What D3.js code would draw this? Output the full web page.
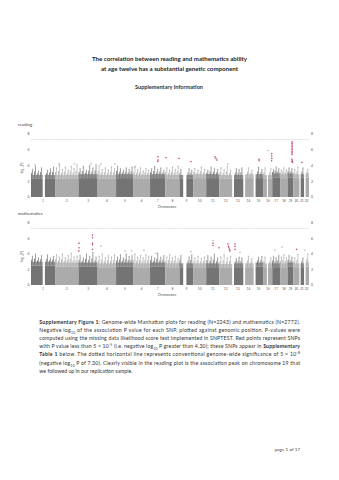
<!DOCTYPE html>
<html><head><meta charset="utf-8">
<script src="https://cdn.jsdelivr.net/npm/d3@7"></script>
<style>body{margin:0;background:#fff}svg{display:block;font-family:Lato,'Open Sans',sans-serif}</style>
</head><body><svg id="c" width="339" height="480"></svg>
<script>
// ---------- data ----------
const chromosomes = ["1","2","3","4","5","6","7","8","9","10","11","12","13","14","15","16","17","18","19","20","21","22"];
const chromLengthsMb = [249.3,243.2,198.0,191.2,180.9,171.1,159.1,146.4,141.2,135.5,135.0,133.9,115.2,107.3,102.5,90.4,81.2,78.1,59.1,63.0,48.1,51.3];
const gapsMb = [[1,121,144],[9,38,71],[13,0,19],[14,0,19],[15,0,20],[16,35,46],[21,0,13],[22,0,16]];
const yTicks = [0,2,4,6,8];
const genomeWideLine = 7.3;
const panelNames = ["reading","mathematics"];

const readingBandTop = [2.8,2.8,2.9,2.8,2.9,2.8,2.9,2.8,2.8,2.9,2.9,2.8,2.8,2.9,2.9,2.8,3.0,2.9,3.0,2.9,2.9,3.0];
const readingScatter = [
 [3.5,3.9,3.3,3.7,4.0,3.4,3.6,3.8],[3.7,4.1,3.5,3.8,3.4,3.9,3.6,4.1],[3.6,3.9,3.4,4.0,3.7,4.1],
 [4.0,3.5,3.7,3.4,3.8,3.6],[3.9,3.6,3.4,3.7,3.5,3.8],[3.8,3.5,3.7,3.3,3.6,3.4],[3.6,3.9,3.5,3.7,3.4],
 [3.7,3.4,3.8,3.5,3.9],[3.5,3.7,3.3,3.6,3.4],[3.6,3.4,3.8,3.5],[3.4,3.8,3.6,3.5],[3.7,3.5,3.9,3.4],
 [3.3,3.6,3.5,3.7],[3.5,3.7,3.4],[3.6,3.8,3.5],[3.7,3.4,3.6],[3.5,3.8,3.6],[3.4,3.7,3.5],
 [3.7,3.6],[3.5,3.8],[3.4,3.7],[3.6,3.5]];
// [chromosome, position Mb, -log10 P, colour flag]
const readingPeaks = [
 [1,41,4.1,"g"],[2,41,4.2,"g"],[2,197,4.2,"g"],[3,130,4.2,"g"],[4,35,4.2,"g"],[4,180,4.2,"g"],[6,16,3.9,"g"],
 [7,82,5.1,"r"],[7,83,4.7,"r"],[7,81,4.5,"r"],[8,6,5.0,"r"],[8,141,4.9,"r"],[9,119,4.5,"r"],
 [11,91,5.1,"r"],[11,101,4.9,"r"],[11,111,4.7,"r"],[12,90,4.2,"g"],[15,56,4.8,"r"],[15,57,4.6,"r"],
 [16,46,5.9,"g"],[16,84,5.5,"r"],[16,85,5.2,"r"],[16,86,4.9,"r"],[16,84,4.6,"r"],
 [19,46,7.0,"r"],[19,46,6.8,"r"],[19,46,6.6,"r"],[19,46,6.4,"r"],[19,46,6.2,"r"],[19,46,6.0,"r"],
 [19,46,5.8,"r"],[19,46,5.6,"r"],[19,46,5.4,"r"],[19,44,4.8,"r"],[19,48,4.6,"r"],[19,45,4.5,"r"],[19,50,4.4,"r"],
 [21,26,4.4,"r"]];

const mathBandTop = [3.0,2.9,2.9,2.8,2.9,2.8,2.9,2.8,2.8,2.8,2.8,2.7,2.8,2.8,2.9,2.8,2.8,2.8,2.9,2.8,2.8,2.9];
const mathScatter = [
 [3.7,4.0,3.5,3.8,3.6,3.9,3.5,3.7],[3.9,3.6,4.0,3.5,3.8,4.1,3.6,3.7],[3.8,3.5,4.0,3.7,4.2,3.6],
 [3.7,4.0,3.5,3.8,3.6,3.9],[3.6,3.9,3.5,4.0,3.7,3.8],[4.0,3.6,3.8,3.5,3.9,3.7],[3.7,3.5,4.1,3.6,3.8],
 [3.6,3.9,3.5,3.7,3.4],[3.8,3.5,3.7,3.6,3.9],[3.5,3.7,3.4,3.6],[3.8,3.6,4.0,3.5],[3.6,3.9,3.5,3.7],
 [3.7,3.4,3.6,3.5],[3.5,3.7,3.4],[3.9,3.6,3.7],[3.6,3.8,3.5],[3.7,3.5,3.8],[3.6,3.9,3.5],
 [3.8,3.6],[3.5,3.9],[3.7,3.5],[3.6,4.0]];
const mathPeaks = [
 [3,5,5.4,"r"],[3,6,4.8,"r"],[3,3,4.4,"r"],[3,145,6.45,"r"],[3,145,6.1,"r"],[3,146,5.4,"r"],[3,145,5.2,"r"],[3,144,4.6,"r"],
 [4,35,5.0,"g"],[5,92,4.4,"g"],[5,162,4.4,"g"],[6,108,4.5,"g"],[7,60,4.1,"g"],
 [11,70,5.7,"g"],[11,70,5.4,"r"],[11,71,5.1,"r"],[11,132,4.8,"r"],
 [12,90,5.3,"r"],[12,95,5.0,"r"],[12,100,4.8,"r"],[12,106,4.6,"r"],[12,111,4.4,"r"],
 [13,29,5.3,"r"],[13,30,5.0,"r"],[13,29,4.6,"r"],[13,80,4.2,"g"],[9,119,4.3,"g"],
 [17,28,4.5,"g"],[18,20,4.9,"g"],[20,35,4.6,"r"],[22,10,4.5,"g"]];

const captionLines = [
 [["b","Supplementary Figure 1:"],["n"," Genome-wide Manhattan plots for reading (N=2243) and mathematics (N=2772)."]],
 [["n","Negative log"],["sub","10"],["n"," of the association P value for each SNP, plotted against genomic position. P-values were"]],
 [["n","computed using the missing data likelihood score test implemented in SNPTEST.  Red points represent SNPs"]],
 [["n","with P value less than 5 \u00d7 10"],["sup","-5"],["n"," (i.e. negative log"],["sub","10"],["n"," P greater than 4.30); these SNPs appear in "],["b","Supplementary"]],
 [["b","Table 1"],["n"," below. The dotted horizontal line represents conventional genome-wide significance of 5 \u00d7 10"],["sup","-8"]],
 [["n","(negative log"],["sub","10"],["n"," P of 7.30). Clearly visible in the reading plot is the association peak on chromosome 19 that"]],
 [["n","we followed up in our replication sample."]]];

// ---------- drawing ----------
const svg = d3.select("#c");
const dark = "#747474", light = "#ababab", darkS = "#909090", lightS = "#c0c0c0", red = "#b8395e";
const starts = []; let acc = 0;
chromLengthsMb.forEach(l => { starts.push(acc); acc += l; });
const total = acc;
const x = d3.scaleLinear().domain([0,total]).range([31,309]);

svg.append("text").attr("x",169.5).attr("y",61).attr("text-anchor","middle").attr("font-size",5.6).attr("font-weight","bold").attr("fill","#222")
  .attr("textLength",155).attr("lengthAdjust","spacingAndGlyphs").text("The correlation between reading and mathematics ability");
svg.append("text").attr("x",169.5).attr("y",71).attr("text-anchor","middle").attr("font-size",5.6).attr("font-weight","bold").attr("fill","#222")
  .attr("textLength",137).attr("lengthAdjust","spacingAndGlyphs").text("at age twelve has a substantial genetic component");
svg.append("text").attr("x",169).attr("y",89).attr("text-anchor","middle").attr("font-size",5).attr("font-weight","bold").attr("fill","#333")
  .attr("textLength",68).attr("lengthAdjust","spacingAndGlyphs").text("Supplementary Information");

function gapsOf(ci){ return gapsMb.filter(g => g[0]===ci+1); }
function inGap(ci,pos){ return gapsOf(ci).some(g => pos>=g[1] && pos<=g[2]); }

function panel(name, y0, y8, bandTop, scatter, peaks, labelY){
  const y = d3.scaleLinear().domain([0,8]).range([y0,y8]);
  const g = svg.append("g");
  g.append("text").attr("x",18).attr("y",labelY).attr("font-size",4.4).attr("fill","#444").text(name);
  chromosomes.forEach((c,ci) => {
    const col = ci%2===0 ? dark : light, scol = ci%2===0 ? darkS : lightS;
    const len = chromLengthsMb[ci];
    let segs = [[0,len]];
    gapsOf(ci).forEach(gp => {
      segs = segs.flatMap(s => (gp[2]<=s[0]||gp[1]>=s[1]) ? [s] : [[s[0],gp[1]],[gp[2],s[1]]].filter(t=>t[1]-t[0]>0.5));
    });
    segs.forEach(s => {
      g.append("rect").attr("x",x(starts[ci]+s[0])).attr("width",x(starts[ci]+s[1])-x(starts[ci]+s[0]))
        .attr("y",y(bandTop[ci]-0.5)).attr("height",y(0)-y(bandTop[ci]-0.5)).attr("fill",col);
      g.append("rect").attr("x",x(starts[ci]+s[0])).attr("width",x(starts[ci]+s[1])-x(starts[ci]+s[0]))
        .attr("y",y(bandTop[ci])).attr("height",y(bandTop[ci]-0.5)-y(bandTop[ci])).attr("fill",scol);
    });
    const k = scatter[ci].length;
    scatter[ci].forEach((v,i) => {
      const pos = (i+0.5)/k*len;
      if (inGap(ci,pos)) return;
      const px = x(starts[ci]+pos);
      g.append("line").attr("x1",px).attr("x2",px).attr("y1",y(bandTop[ci]-0.5)).attr("y2",y(v))
        .attr("stroke",scol).attr("stroke-width",1).attr("opacity",0.85);
      g.append("line").attr("x1",px-1).attr("x2",px-1).attr("y1",y(bandTop[ci]-0.5)).attr("y2",y(bandTop[ci]+(v-bandTop[ci])*0.4))
        .attr("stroke",col).attr("stroke-width",0.8);
      g.append("circle").attr("cx",px).attr("cy",y(v)).attr("r",0.5).attr("fill","none").attr("stroke",darkS).attr("stroke-width",0.3);
    });
  });
  peaks.forEach(p => {
    g.append("circle").attr("cx",x(starts[p[0]-1]+p[1])).attr("cy",y(p[2])).attr("r",0.55)
      .attr("fill",p[3]==="r"?red:"none").attr("stroke",p[3]==="r"?red:"#777").attr("stroke-width",0.35);
  });
  g.append("line").attr("x1",31).attr("x2",309).attr("y1",y(genomeWideLine)).attr("y2",y(genomeWideLine))
    .attr("stroke","#c8c8c8").attr("stroke-width",0.6).attr("stroke-dasharray","1.2,0.6");
  yTicks.forEach(t => {
    [28.5,312].forEach(xx => g.append("text").attr("x",xx).attr("y",y(t)+1.3).attr("text-anchor","middle")
      .attr("font-size",3.4).attr("fill","#555").text(t));
  });
  const yl = g.append("text").attr("transform",`translate(22.5,${(y(0)+y(8))/2+3}) rotate(-90)`).attr("text-anchor","middle")
    .attr("font-size",3.2).attr("fill","#555");
  yl.append("tspan").text("-log");
  yl.append("tspan").attr("font-size",2.3).attr("baseline-shift","sub").text("10");
  yl.append("tspan").text("(P)");
  chromosomes.forEach((c,ci) => {
    g.append("text").attr("x",x(starts[ci]+chromLengthsMb[ci]/2)).attr("y",y(0)+5).attr("text-anchor","middle")
      .attr("font-size",3.2).attr("fill","#555").text(c);
  });
  g.append("text").attr("x",167).attr("y",y(0)+11.2).attr("text-anchor","middle").attr("font-size",3.2).attr("fill","#555").text("Chromosome");
}
panel(panelNames[0],197,134,readingBandTop,readingScatter,readingPeaks,125.5);
panel(panelNames[1],285,223,mathBandTop,mathScatter,mathPeaks,214.5);

captionLines.forEach((ln,i) => {
  const t = svg.append("text").attr("x",39.3).attr("y",324 + i*8.1).attr("font-size",5.2).attr("fill","#333");
  if (i < 6) t.attr("textLength",260.7).attr("lengthAdjust","spacing");
  ln.forEach(([k,s]) => {
    const sp = t.append("tspan").text(s);
    if (k==="b") sp.attr("font-weight","bold");
    if (k==="sub") sp.attr("font-size",3.4).attr("baseline-shift","sub");
    if (k==="sup") sp.attr("font-size",3.4).attr("baseline-shift","super");
  });
});
svg.append("text").attr("x",300).attr("y",450.5).attr("text-anchor","end").attr("font-size",4.6).attr("fill","#444").text("page 1 of 17");
</script></body></html>
